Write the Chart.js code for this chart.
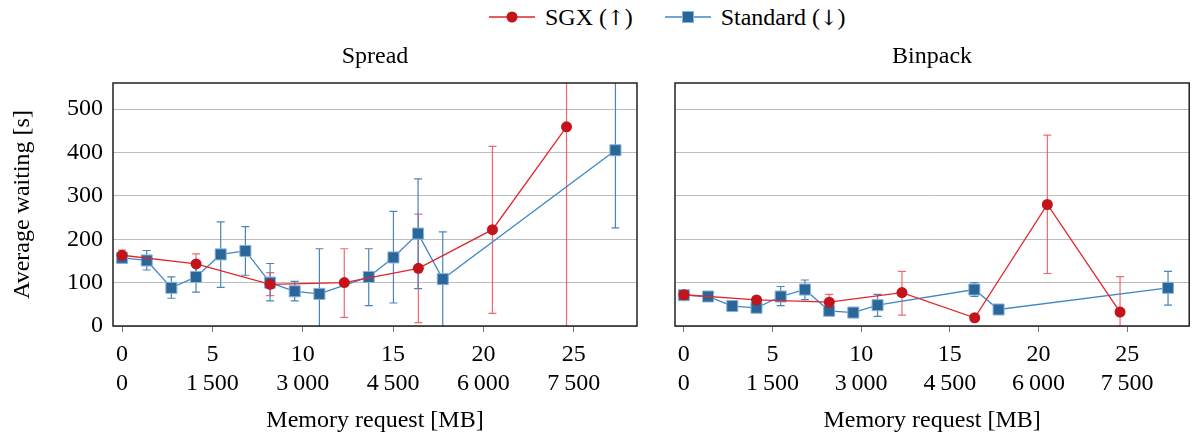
<!DOCTYPE html>
<html>
<head>
<meta charset="utf-8">
<script src="https://cdn.jsdelivr.net/npm/chart.js@4.4.0/dist/chart.umd.min.js"></script>
<style>
  body { margin: 0; background: #fff; width: 1198px; height: 439px; position: relative; overflow: hidden; font-family: "Liberation Serif", serif; }
  #legend { position: absolute; left: 489px; top: 2px; height: 30px; line-height: 30px; font-size: 24px; display: flex; align-items: center; color: #000; }
  #legend .item { display: flex; align-items: center; margin-right: 32px; }
  #legend svg { margin-right: 10px; }
  #legend .arr { font-family: "DejaVu Serif", serif; font-size: 21px; color: #000; }
  canvas { position: absolute; top: 0; }
</style>
</head>
<body>
<div id="legend"></div>
<canvas id="spread" width="650" height="439" style="left:0"></canvas>
<canvas id="binpack" width="548" height="439" style="left:650px"></canvas>
<script>
const seriesNames = ["SGX", "Standard"];
const seriesArrows = ["↑", "↓"];
const panelTitles = ["Spread", "Binpack"];

// axes
const sgxTicks = [0, 5, 10, 15, 20, 25];
const sgxTickLabels = ["0", "5", "10", "15", "20", "25"];
const stdTicks = [0, 1500, 3000, 4500, 6000, 7500];
const stdTickLabels = ["0", "1\u2009500", "3\u2009000", "4\u2009500", "6\u2009000", "7\u2009500"];
const yTicks = [0, 100, 200, 300, 400, 500];

// SGX memory requests (top tick row)
const sgxX = [0, 4.1, 8.2, 12.3, 16.4, 20.5, 24.6];

// Spread
const spreadSgxY = [163, 143, 96, 100, 133, 222, 459];
const spreadSgxLow = [153, 120, 70, 20, 8, 29, -200];
const spreadSgxHigh = [175, 166, 123, 178, 258, 414, 1100];
const spreadStdX = [0, 410, 819, 1229, 1638, 2048, 2458, 2867, 3277, 4096, 4506, 4915, 5325, 8192];
const spreadStdY = [157, 151, 88, 113, 165, 173, 100, 80, 74, 113, 158, 213, 108, 405];
const spreadStdLow = [147, 129, 64, 78, 89, 117, 58, 58, -30, 47, 53, 86, -5, 226];
const spreadStdHigh = [167, 174, 113, 148, 240, 229, 144, 103, 178, 178, 264, 339, 217, 584];

// Binpack
const binSgxY = [72, 60, 55, 77, 19, 280, 32];
const binSgxLow = [64, 53, 37, 25, 14, 121, -50];
const binSgxHigh = [80, 67, 73, 126, 24, 440, 114];
const binStdX = [0, 410, 819, 1229, 1638, 2048, 2458, 2867, 3277, 4915, 5325, 8192];
const binStdY = [71, 68, 46, 42, 68, 84, 35, 31, 48, 84, 38, 88];
const binStdLow = [63, 60, 40, 36, 47, 61, 29, 25, 22, 68, 32, 48];
const binStdHigh = [79, 76, 52, 48, 91, 106, 41, 37, 73, 100, 44, 126];

const RED_LINE = "#e3262b", RED_FILL = "#c3141b", RED_ERR = "rgba(232,70,76,0.8)";
const BLUE_LINE = "#3f88c5", BLUE_FILL = "#2b6699", BLUE_EDGE = "#86b2dc", BLUE_ERR = "#4a84bd";
const FONT = { family: '"Liberation Serif", serif', size: 24, weight: "normal" };

// legend
const legendEl = document.getElementById("legend");
const markers = [
  `<svg width="46" height="20"><line x1="0" y1="10" x2="46" y2="10" stroke="${RED_LINE}" stroke-width="1.3"/><circle cx="23" cy="10" r="5.5" fill="${RED_FILL}"/></svg>`,
  `<svg width="46" height="20"><line x1="0" y1="10" x2="46" y2="10" stroke="${BLUE_LINE}" stroke-width="1.3"/><rect x="17.5" y="4.5" width="11" height="11" fill="${BLUE_FILL}" stroke="${BLUE_EDGE}" stroke-width="1"/></svg>`
];
seriesNames.forEach((n, i) => {
  const d = document.createElement("div");
  d.className = "item";
  d.innerHTML = markers[i] + "<span>" + n + " (<span class=\"arr\">" + seriesArrows[i] + "</span>)</span>";
  legendEl.appendChild(d);
});

const errorBars = {
  id: "errorBars",
  beforeDatasetsDraw(chart) {
    const { ctx, chartArea: a } = chart;
    ctx.save();
    ctx.beginPath();
    ctx.rect(a.left, a.top, a.right - a.left, a.bottom - a.top);
    ctx.clip();
    chart.data.datasets.forEach((ds) => {
      const xs = chart.scales[ds.xAxisID];
      const ys = chart.scales.y;
      ctx.strokeStyle = ds.errColor;
      ctx.lineWidth = 1.2;
      ds.data.forEach((p, j) => {
        const x = xs.getPixelForValue(p.x);
        const y1 = ys.getPixelForValue(ds.errLow[j]);
        const y2 = ys.getPixelForValue(ds.errHigh[j]);
        ctx.beginPath();
        ctx.moveTo(x, y1); ctx.lineTo(x, y2);
        ctx.moveTo(x - 4, y1); ctx.lineTo(x + 4, y1);
        ctx.moveTo(x - 4, y2); ctx.lineTo(x + 4, y2);
        ctx.stroke();
      });
    });
    ctx.restore();
  }
};

const frame = {
  id: "frame",
  afterDraw(chart) {
    const { ctx, chartArea: a } = chart;
    ctx.save();
    ctx.strokeStyle = "#111";
    ctx.lineWidth = 1.4;
    ctx.strokeRect(a.left, a.top, a.right - a.left, a.bottom - a.top);
    ctx.restore();
  }
};

function pts(xs, ys) {
  return xs.map((x, i) => ({ x: x, y: ys[i] }));
}

function makeChart(id, title, sgxY, sgxLo, sgxHi, stdX, stdY, stdLo, stdHi, showY) {
  new Chart(document.getElementById(id), {
    type: "line",
    data: {
      datasets: [
        {
          label: seriesNames[0], xAxisID: "x", data: pts(sgxX, sgxY),
          errLow: sgxLo, errHigh: sgxHi, errColor: RED_ERR,
          borderColor: RED_LINE, borderWidth: 1.3, backgroundColor: RED_FILL,
          pointStyle: "circle", pointRadius: 5.5, pointBorderWidth: 0, pointBackgroundColor: RED_FILL,
          tension: 0, clip: false
        },
        {
          label: seriesNames[1], xAxisID: "x2", data: pts(stdX, stdY),
          errLow: stdLo, errHigh: stdHi, errColor: BLUE_ERR,
          borderColor: BLUE_LINE, borderWidth: 1.3, backgroundColor: BLUE_FILL,
          pointStyle: "rect", pointRadius: 7.8, pointBorderWidth: 1, pointBorderColor: BLUE_EDGE,
          pointBackgroundColor: BLUE_FILL, tension: 0, clip: false
        }
      ]
    },
    options: {
      responsive: false,
      animation: false,
      layout: { padding: { top: 42.6, right: showY ? 13 : 1, left: 0, bottom: 0 } },
      plugins: {
        legend: { display: false },
        tooltip: { enabled: false },
        title: { display: true, text: title, fullSize: false, color: "#000", font: FONT, padding: { top: 0, bottom: 11.6 } }
      },
      scales: {
        x: {
          type: "linear", position: "bottom", weight: 0, min: -0.5, max: 28.5,
          afterBuildTicks: (s) => { s.ticks = sgxTicks.map((v) => ({ value: v })); },
          afterFit: (s) => { s.height = 36; },
          ticks: { callback: (v, i) => sgxTickLabels[i], color: "#000", font: FONT, padding: 8, maxRotation: 0 },
          grid: { display: true, drawOnChartArea: false, drawTicks: true, tickLength: 6, color: "#777" },
          border: { display: false }
        },
        x2: {
          type: "linear", position: "bottom", weight: 1, min: -150, max: 8550,
          afterBuildTicks: (s) => { s.ticks = stdTicks.map((v) => ({ value: v })); },
          afterFit: (s) => { s.height = 77; },
          ticks: { callback: (v, i) => stdTickLabels[i], color: "#000", font: FONT, padding: -1, maxRotation: 0 },
          grid: { display: false },
          border: { display: false },
          title: { display: true, text: "Memory request [MB]", color: "#000", font: FONT, padding: { top: 0, bottom: 4 } }
        },
        y: {
          type: "linear", position: "left", min: 0, max: 560,
          afterBuildTicks: (s) => { s.ticks = yTicks.map((v) => ({ value: v })); },
          afterFit: (s) => { s.width = showY ? 113 : 25; },
          ticks: { display: showY, color: "#000", font: FONT, padding: 10 },
          grid: { color: "#bdbdbd", lineWidth: 1, drawTicks: false },
          border: { display: false },
          title: { display: showY, text: "Average waiting [s]", color: "#000", font: FONT, padding: { top: 8, bottom: 0 } }
        }
      }
    },
    plugins: [errorBars, frame]
  });
}

makeChart("spread", panelTitles[0], spreadSgxY, spreadSgxLow, spreadSgxHigh,
  spreadStdX, spreadStdY, spreadStdLow, spreadStdHigh, true);
makeChart("binpack", panelTitles[1], binSgxY, binSgxLow, binSgxHigh,
  binStdX, binStdY, binStdLow, binStdHigh, false);
</script>
</body>
</html>
